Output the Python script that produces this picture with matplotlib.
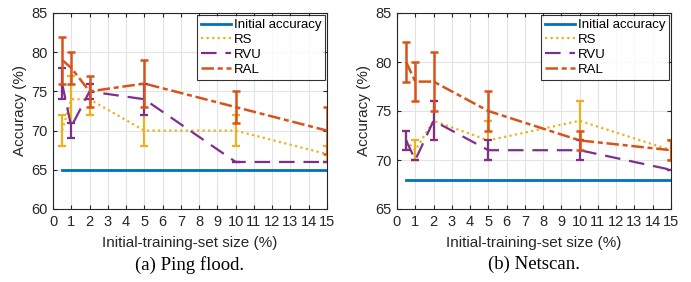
import matplotlib
matplotlib.use("Agg")
import matplotlib.pyplot as plt
import numpy as np

plt.rcParams['font.family'] = ['Liberation Sans', 'DejaVu Sans']

x = [0.5, 1, 2, 5, 10, 15]

# (a) Ping flood
ping_init = [65, 65, 65, 65, 65, 65]
ping_rs = [70, 74, 74, 70, 70, 67]
ping_rs_lo = [68, 71, 72, 68, 68, 66]
ping_rs_hi = [72, 77, 76, 72, 72, 68]
ping_rvu = [76, 70.5, 75, 74, 66, 66]
ping_rvu_lo = [74, 69, 74, 72, 66, 66]
ping_rvu_hi = [78, 71, 76, 76, 66, 66]
ping_ral = [79, 78, 75, 76, 73, 70]
ping_ral_lo = [76, 76, 73, 73, 71, 67]
ping_ral_hi = [82, 80, 77, 79, 75, 73]

# (b) Netscan
net_init = [68, 68, 68, 68, 68, 68]
net_rs = [72, 71, 74, 72, 74, 71]
net_rs_lo = [71, 70, 72, 70, 72, 70]
net_rs_hi = [73, 72, 76, 74, 76, 72]
net_rvu = [72, 70, 74, 71, 71, 69]
net_rvu_lo = [71, 70, 72, 70, 70, 69]
net_rvu_hi = [73, 70, 76, 72, 72, 69]
net_ral = [80, 78, 78, 75, 72, 71]
net_ral_lo = [78, 76, 75, 73, 71, 70]
net_ral_hi = [82, 80, 81, 77, 73, 72]

c_blue = '#0072BD'
c_yel = '#EDB120'
c_pur = '#7E2F8E'
c_org = '#D95319'


def err(mean, lo, hi):
    mean = np.array(mean)
    return [mean - np.array(lo), np.array(hi) - mean]


def series(ax, data, color, ls, lw, label):
    mean, lo, hi = data
    ax.errorbar(x, mean, yerr=err(mean, lo, hi), fmt='none', ecolor=color,
                capsize=3, elinewidth=lw, capthick=lw)
    ax.plot(x, mean, color=color, lw=lw, ls=ls, label=label)


def panel(ax, init, rs, rvu, ral, ylim, caption):
    ax.plot(x, init, color=c_blue, lw=2, ls='-', label='Initial accuracy')
    series(ax, rs, c_yel, (0, (1, 1.5)), 1.6, 'RS')
    series(ax, rvu, c_pur, (0, (7, 4)), 1.6, 'RVU')
    series(ax, ral, c_org, (0, (5, 1.5, 2, 1.5)), 1.8, 'RAL')
    ax.set_xlim(0, 15)
    ax.set_ylim(*ylim)
    ax.set_xticks(range(0, 16))
    ax.set_yticks(range(ylim[0], ylim[1] + 1, 5))
    ax.grid(True, color='#e3e3e3', lw=0.8)
    ax.set_axisbelow(True)
    ax.tick_params(direction='in', top=True, right=True, length=3,
                   labelsize=10.5, pad=4, colors='#262626')
    for s in ax.spines.values():
        s.set_color('#262626')
        s.set_linewidth(0.8)
    ax.set_xlabel('Initial-training-set size (%)', fontsize=11, labelpad=5,
                  color='#262626')
    ax.set_ylabel('Accuracy (%)', fontsize=11, labelpad=3, color='#262626')
    leg = ax.legend(loc='upper right', fontsize=9.5, frameon=True, fancybox=False,
                    edgecolor='black', borderaxespad=0.15, handlelength=2.3,
                    borderpad=0.3, labelspacing=0.2, handletextpad=0.2)
    leg.get_frame().set_linewidth(0.8)
    ax.text(0.5, -0.24, caption, transform=ax.transAxes, ha='center', va='top',
            fontsize=13.5, family='Liberation Serif')


fig = plt.figure(figsize=(6.91, 2.82), dpi=100)
ax1 = fig.add_axes([53 / 691, 1 - 209 / 282, 274 / 691, 196 / 282])
ax2 = fig.add_axes([397 / 691, 1 - 209 / 282, 274 / 691, 196 / 282])

panel(ax1, ping_init, (ping_rs, ping_rs_lo, ping_rs_hi),
      (ping_rvu, ping_rvu_lo, ping_rvu_hi), (ping_ral, ping_ral_lo, ping_ral_hi),
      (60, 85), '(a) Ping flood.')
panel(ax2, net_init, (net_rs, net_rs_lo, net_rs_hi),
      (net_rvu, net_rvu_lo, net_rvu_hi), (net_ral, net_ral_lo, net_ral_hi),
      (65, 85), '(b) Netscan.')

fig.savefig('out.png', dpi=100)
